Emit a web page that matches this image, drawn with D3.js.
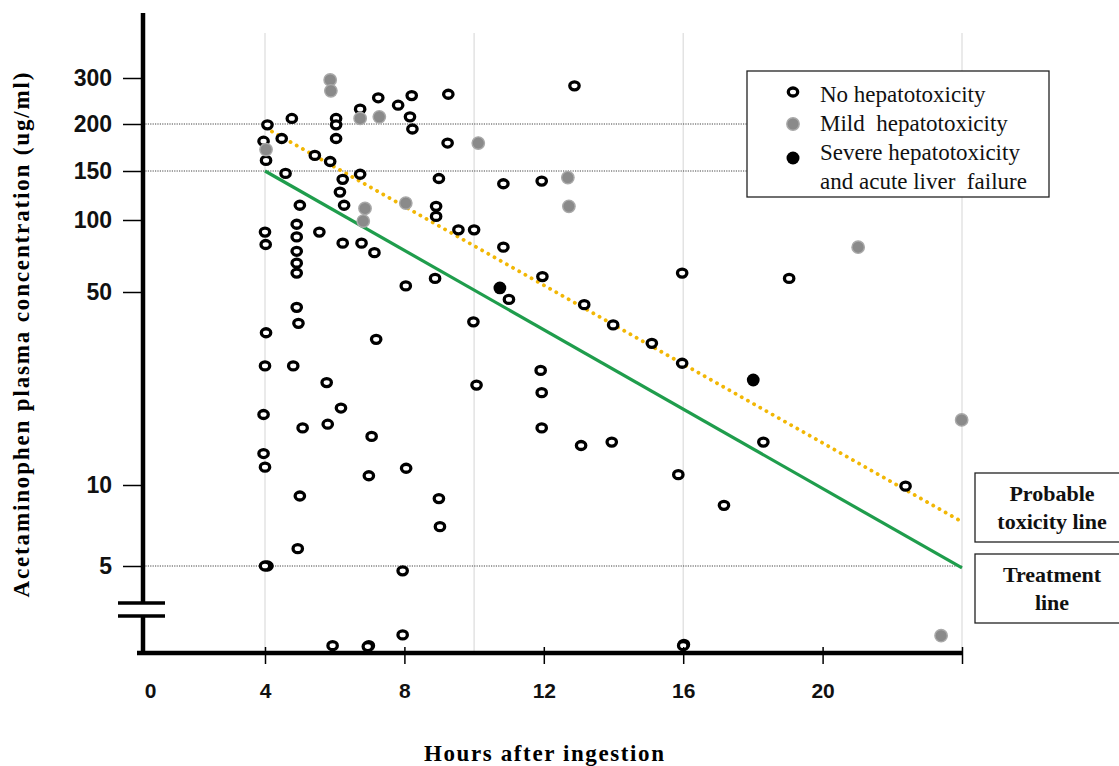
<!DOCTYPE html>
<html>
<head>
<meta charset="utf-8">
<script src="https://cdn.jsdelivr.net/npm/d3@7"></script>
<style>
  body { margin: 0; background: #fff; }
  svg { display: block; background: #fff; }
</style>
</head>
<body>
<div class="canvas"></div>
<script>
// data: [hours after ingestion, plasma concentration ug/ml]
// values under 5 sit below the axis break
const noHepatotoxicity = [
  [4.07, 199], [3.95, 180], [4.03, 160], [4.77, 210], [4.48, 183], [4.59, 147],
  [5.43, 165], [5.87, 159], [6.04, 210], [6.04, 199], [6.04, 183], [6.23, 140],
  [6.15, 126], [6.27, 113], [6.73, 228], [7.25, 252], [7.82, 236], [8.21, 257],
  [8.16, 213], [8.23, 194], [9.26, 260], [9.24, 178], [6.73, 146], [8.99, 141],
  [10.84, 135], [11.94, 138], [5.0, 113], [8.91, 112], [8.91, 103], [4.0, 89],
  [4.02, 79], [4.91, 96], [4.91, 85], [4.91, 74], [4.91, 66], [4.91, 60],
  [5.56, 89], [6.23, 80], [6.77, 80], [7.14, 73], [9.55, 91], [10.0, 91],
  [10.84, 77], [8.88, 57], [8.04, 53], [11.0, 47], [11.96, 58], [4.91, 44],
  [4.96, 38.5], [4.03, 35.6], [7.19, 33.7], [9.98, 39], [4.0, 27], [4.81, 27],
  [5.77, 23.5], [6.18, 19], [3.95, 18], [5.08, 16.1], [5.8, 16.6], [7.06, 15],
  [10.07, 23], [11.91, 26], [11.94, 21.6], [11.94, 16.1], [3.95, 13], [4.0, 11.6],
  [8.05, 11.5], [6.98, 10.8], [5.0, 9.1], [8.99, 8.9], [9.02, 7.0], [4.94, 5.8],
  [4.07, 5], [4.0, 5], [7.95, 4.75], [7.95, 2.42], [5.94, 2.16], [6.98, 2.16],
  [6.95, 2.14], [12.88, 280], [15.97, 60], [19.04, 57], [13.16, 45], [13.99, 38],
  [15.1, 32.6], [15.97, 27.6], [13.07, 13.9], [13.95, 14.3], [18.3, 14.3],
  [15.86, 10.9], [17.17, 8.4], [22.38, 9.9], [16.02, 2.19], [16.0, 2.16]
];

const mildHepatotoxicity = [
  [5.87, 295], [5.89, 268], [4.03, 171], [6.73, 210], [7.28, 213], [10.12, 178],
  [8.04, 115], [6.87, 110], [6.82, 99], [12.69, 142], [12.72, 112], [21.02, 77],
  [23.99, 17.2], [23.4, 2.4]
];

const severeHepatotoxicity = [[10.74, 52], [18.01, 24]];

// nomogram lines
const treatmentLine = [[4, 150], [24, 4.9]];
const probableToxicityLine = [[4.2, 191], [24, 7.3]];

// ticks
const yTicks = [5, 10, 50, 100, 150, 200, 300];
const xTicks = [0, 4, 8, 12, 16, 20, 24];
const gridHours = [4, 10, 16, 24];
const dottedLevels = [200, 150, 5];

const legendItems = [
  { type: "none", lines: ["No hepatotoxicity"] },
  { type: "mild", lines: ["Mild  hepatotoxicity"] },
  { type: "severe", lines: ["Severe hepatotoxicity", "and acute liver  failure"] },
];

const width = 1119;
const height = 766;

const svg = d3
  .select(".canvas")
  .append("svg")
  .attr("width", width)
  .attr("height", height);

// scales - the printed axis is spaced by hand, so both are piecewise
const x = d3.scaleLinear().domain([0, 4, 24]).range([150, 265, 962]);
const y = d3
  .scaleLog()
  .domain([2, 5, 10, 50, 100, 150, 200, 300])
  .range([653, 566, 485, 292, 220, 171, 124, 78]);

const axisX = 143;
const axisY = 653;
const serif = "'Liberation Serif', 'Times New Roman', serif";
const sans = "'Liberation Sans', Arial, sans-serif";

// vertical grid
svg
  .append("g")
  .selectAll("line")
  .data(gridHours)
  .enter()
  .append("line")
  .attr("x1", (d) => x(d))
  .attr("x2", (d) => x(d))
  .attr("y1", 33)
  .attr("y2", axisY)
  .attr("stroke", "#dcdcdc")
  .attr("stroke-width", 1.2);

// dotted reference levels
svg
  .append("g")
  .selectAll("line")
  .data(dottedLevels)
  .enter()
  .append("line")
  .attr("x1", axisX)
  .attr("x2", (d) => (d === 5 ? x(24) : 747))
  .attr("y1", (d) => y(d))
  .attr("y2", (d) => y(d))
  .attr("stroke", "#444")
  .attr("stroke-width", 1)
  .attr("stroke-dasharray", "1.2,1.2");

// line generator
const line = d3
  .line()
  .x((d) => x(d[0]))
  .y((d) => y(d[1]));

svg
  .append("path")
  .datum(treatmentLine)
  .attr("d", line)
  .attr("fill", "none")
  .attr("stroke", "#1f9d4c")
  .attr("stroke-width", 3.2);

svg
  .append("path")
  .datum(probableToxicityLine)
  .attr("d", line)
  .attr("fill", "none")
  .attr("stroke", "#f2b705")
  .attr("stroke-width", 3.8)
  .attr("stroke-linecap", "round")
  .attr("stroke-dasharray", "0.1,7");

// points
const pts = svg.append("g");

pts
  .selectAll("ellipse.none")
  .data(noHepatotoxicity)
  .enter()
  .append("ellipse")
  .attr("class", "none")
  .attr("cx", (d) => x(d[0]))
  .attr("cy", (d) => y(d[1]))
  .attr("rx", 4.7)
  .attr("ry", 4.0)
  .attr("fill", "#fff")
  .attr("stroke", "#000")
  .attr("stroke-width", 3.3);

pts
  .selectAll("circle.mild")
  .data(mildHepatotoxicity)
  .enter()
  .append("circle")
  .attr("class", "mild")
  .attr("cx", (d) => x(d[0]))
  .attr("cy", (d) => y(d[1]))
  .attr("r", 6.2)
  .attr("fill", "#8a8a8a")
  .attr("stroke", "#a9a9a9")
  .attr("stroke-width", 1.4);

pts
  .selectAll("circle.severe")
  .data(severeHepatotoxicity)
  .enter()
  .append("circle")
  .attr("class", "severe")
  .attr("cx", (d) => x(d[0]))
  .attr("cy", (d) => y(d[1]))
  .attr("r", 6.4)
  .attr("fill", "#000");

// y axis
const yAxisGroup = svg.append("g").attr("transform", `translate(${axisX},0)`);
yAxisGroup.call(
  d3.axisLeft(y).tickValues(yTicks).tickSize(20).tickPadding(11).tickFormat(d3.format("d"))
);
yAxisGroup.select(".domain").remove();
yAxisGroup.selectAll("line").attr("stroke-width", 1.5);
yAxisGroup
  .selectAll("text")
  .attr("font-family", sans)
  .attr("font-weight", "bold")
  .attr("font-size", 23)
  .attr("fill", "#111");

// x axis
const xAxisGroup = svg.append("g").attr("transform", `translate(0,${axisY - 6})`);
xAxisGroup.call(
  d3
    .axisBottom(x)
    .tickValues(xTicks)
    .tickSize(17)
    .tickPadding(19)
    .tickFormat((d) => (d === 24 ? "" : d))
);
xAxisGroup.select(".domain").remove();
xAxisGroup.selectAll(".tick").filter((d) => d === 0).select("line").remove();
xAxisGroup.selectAll("line").attr("stroke-width", 1.5);
xAxisGroup
  .selectAll("text")
  .attr("font-family", sans)
  .attr("font-weight", "bold")
  .attr("font-size", 21)
  .attr("fill", "#111");

// axis lines with the break on y
const axes = svg.append("g").attr("stroke", "#000").attr("stroke-width", 4.5);
axes.append("line").attr("x1", axisX).attr("x2", axisX).attr("y1", 13).attr("y2", 603);
axes.append("line").attr("x1", axisX).attr("x2", axisX).attr("y1", 616).attr("y2", axisY + 2);
axes.append("line").attr("x1", 137).attr("x2", x(24) + 1).attr("y1", axisY).attr("y2", axisY);
axes.append("line").attr("x1", 118).attr("x2", 165).attr("y1", 603).attr("y2", 603).attr("stroke-width", 3.5);
axes.append("line").attr("x1", 118).attr("x2", 165).attr("y1", 616).attr("y2", 616).attr("stroke-width", 3.5);

// axis titles
svg
  .append("text")
  .attr("transform", "translate(29,335) rotate(-90)")
  .attr("text-anchor", "middle")
  .attr("font-family", serif)
  .attr("font-weight", "bold")
  .attr("font-size", 23)
  .attr("textLength", 525)
  .attr("lengthAdjust", "spacing")
  .text("Acetaminophen plasma concentration (ug/ml)");

svg
  .append("text")
  .attr("x", 544)
  .attr("y", 761)
  .attr("text-anchor", "middle")
  .attr("font-family", serif)
  .attr("font-weight", "bold")
  .attr("font-size", 23)
  .attr("textLength", 240)
  .attr("lengthAdjust", "spacing")
  .text("Hours after ingestion");

// legend
const legend = svg.append("g");
legend
  .append("rect")
  .attr("x", 747)
  .attr("y", 71)
  .attr("width", 302)
  .attr("height", 126)
  .attr("fill", "#fff")
  .attr("stroke", "#222")
  .attr("stroke-width", 1.3);

let row = 0;
legendItems.forEach((item) => {
  const cy = 92 + row * 32;
  if (item.type === "none") {
    legend.append("ellipse").attr("cx", 793).attr("cy", cy).attr("rx", 4.7).attr("ry", 4.0)
      .attr("fill", "#fff").attr("stroke", "#000").attr("stroke-width", 3.3);
  } else if (item.type === "mild") {
    legend.append("circle").attr("cx", 793).attr("cy", cy).attr("r", 6.2)
      .attr("fill", "#8a8a8a").attr("stroke", "#a9a9a9").attr("stroke-width", 1.4);
  } else {
    legend.append("circle").attr("cx", 793).attr("cy", cy + 2).attr("r", 6.5).attr("fill", "#000");
  }
  item.lines.forEach((t) => {
    legend
      .append("text")
      .attr("x", 820)
      .attr("y", 102 + row * 29)
      .attr("font-family", serif)
      .attr("font-size", 23)
      .attr("fill", "#111")
      .style("white-space", "pre")
      .text(t);
    row++;
  });
});

// line labels on the right
const lineBoxes = [
  { y: 473, lines: ["Probable", "toxicity line"] },
  { y: 554, lines: ["Treatment", "line"] },
];
lineBoxes.forEach((b) => {
  svg
    .append("rect")
    .attr("x", 975)
    .attr("y", b.y)
    .attr("width", 160)
    .attr("height", 69)
    .attr("fill", "#fff")
    .attr("stroke", "#222")
    .attr("stroke-width", 1.3);
  b.lines.forEach((t, i) => {
    svg
      .append("text")
      .attr("x", 1052)
      .attr("y", b.y + 28 + i * 27.5)
      .attr("text-anchor", "middle")
      .attr("font-family", serif)
      .attr("font-weight", "bold")
      .attr("font-size", 22)
      .attr("fill", "#111")
      .text(t);
  });
});
</script>
</body>
</html>
